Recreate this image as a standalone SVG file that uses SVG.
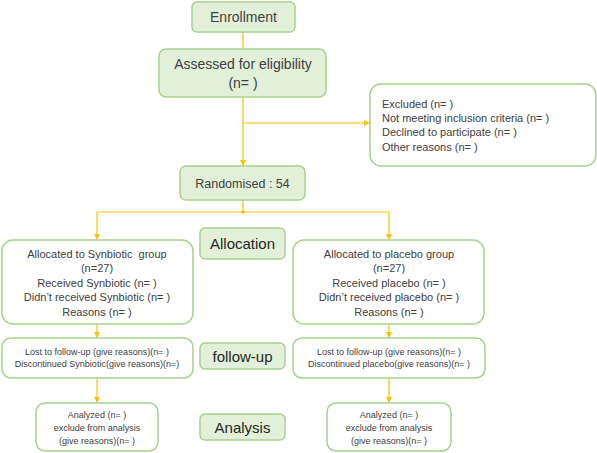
<svg xmlns="http://www.w3.org/2000/svg" width="597" height="453" viewBox="0 0 597 453">
<defs>
<style>
.f{fill:#e2f0d9;stroke:#a9d18e;stroke-width:1.5}
.w{fill:#ffffff;stroke:#a9d18e;stroke-width:1.5}
.c{fill:none;stroke:#ffc000;stroke-width:1.2}
text{font-family:"Liberation Sans",Arial,sans-serif;fill:#404040}
.m{text-anchor:middle}
.lab{font-size:15px;fill:#262626;text-anchor:middle}
</style>
<marker id="a" viewBox="0 0 6 6" refX="5" refY="3" markerWidth="5" markerHeight="5" orient="auto">
<path d="M0,0 L6,3 L0,6 Z" fill="#ffc000"/>
</marker>
</defs>
<rect width="597" height="453" fill="#ffffff"/>
<g id="connectors">
<line class="c" x1="243" y1="32" x2="243" y2="49"/>
<line class="c" x1="243" y1="97" x2="243" y2="165" marker-end="url(#a)"/>
<line class="c" x1="243" y1="123" x2="369" y2="123" marker-end="url(#a)"/>
<line class="c" x1="243" y1="200" x2="243" y2="212"/>
<polyline class="c" points="97,212 389,212 389,239" marker-end="url(#a)"/>
<line class="c" x1="97" y1="212" x2="97" y2="239" marker-end="url(#a)"/>
<circle cx="243" cy="212" r="1.8" fill="#ffc000"/>
<line class="c" x1="97" y1="324" x2="97" y2="337" marker-end="url(#a)"/>
<line class="c" x1="389" y1="324" x2="389" y2="337" marker-end="url(#a)"/>
<line class="c" x1="97" y1="378" x2="97" y2="402" marker-end="url(#a)"/>
<line class="c" x1="389" y1="378" x2="389" y2="402" marker-end="url(#a)"/>
</g>
<g id="enrollment">
<rect class="f" x="192" y="2" width="103" height="30" rx="5"/>
<text class="m" x="243.5" y="22" font-size="14">Enrollment</text>
</g>
<g id="assessed">
<rect class="f" x="159" y="49" width="167" height="48" rx="7"/>
<text class="m" x="243" y="69" font-size="14">Assessed for eligibility</text>
<text class="m" x="243" y="88" font-size="14">(n= )</text>
</g>
<g id="excluded">
<rect class="w" x="370" y="84" width="226" height="82" rx="11"/>
<text x="382" y="108" font-size="11">Excluded (n= )</text>
<text x="382" y="122" font-size="11">Not meeting inclusion criteria (n= )</text>
<text x="382" y="136" font-size="11">Declined to participate (n= )</text>
<text x="382" y="151" font-size="11">Other reasons (n= )</text>
</g>
<g id="randomised">
<rect class="f" x="180" y="166" width="125" height="34" rx="6"/>
<text class="m" x="242.5" y="187.5" font-size="12.5">Randomised : 54</text>
</g>
<g id="allocation">
<rect class="f" x="200" y="228" width="85" height="31" rx="5"/>
<text class="lab" x="242.5" y="249" font-size="14.5">Allocation</text>
</g>
<g id="alloc-synbiotic">
<rect class="w" x="2" y="240" width="191" height="84" rx="11"/>
<text class="m" x="97" y="258" font-size="11" xml:space="preserve">Allocated to Synbiotic  group</text>
<text class="m" x="97" y="272" font-size="11">(n=27)</text>
<text class="m" x="97" y="287" font-size="11">Received Synbiotic (n= )</text>
<text class="m" x="97" y="301" font-size="11">Didn’t received Synbiotic (n= )</text>
<text class="m" x="97" y="316" font-size="11">Reasons (n= )</text>
</g>
<g id="alloc-placebo">
<rect class="w" x="293" y="240" width="191" height="84" rx="11"/>
<text class="m" x="389" y="258" font-size="11">Allocated to placebo group</text>
<text class="m" x="389" y="272" font-size="11">(n=27)</text>
<text class="m" x="389" y="287" font-size="11">Received placebo (n= )</text>
<text class="m" x="389" y="301" font-size="11">Didn’t received placebo (n= )</text>
<text class="m" x="389" y="316" font-size="11">Reasons (n= )</text>
</g>
<g id="followup-label">
<rect class="f" x="200" y="343" width="85" height="26" rx="5"/>
<text class="lab" x="242.5" y="361.5">follow-up</text>
</g>
<g id="followup-synbiotic">
<rect class="w" x="2" y="338" width="191" height="40" rx="9"/>
<text class="m" x="97" y="355" font-size="9">Lost to follow-up (give reasons)(n= )</text>
<text class="m" x="97" y="367" font-size="9">Discontinued Synbiotic(give reasons)(n=)</text>
</g>
<g id="followup-placebo">
<rect class="w" x="293" y="338" width="192" height="40" rx="9"/>
<text class="m" x="389" y="355" font-size="9">Lost to follow-up (give reasons)(n= )</text>
<text class="m" x="389" y="367" font-size="9">Discontinued placebo(give reasons)(n= )</text>
</g>
<g id="analysis-label">
<rect class="f" x="200" y="414" width="85" height="26" rx="5"/>
<text class="lab" x="242.5" y="432.5" font-size="14.5">Analysis</text>
</g>
<g id="analyzed-synbiotic">
<rect class="w" x="36" y="403" width="122" height="48" rx="9"/>
<text class="m" x="97" y="418" font-size="9">Analyzed (n= )</text>
<text class="m" x="97" y="431" font-size="9">exclude from analysis</text>
<text class="m" x="97" y="444" font-size="9">(give reasons)(n= )</text>
</g>
<g id="analyzed-placebo">
<rect class="w" x="327" y="403" width="124" height="48" rx="9"/>
<text class="m" x="389" y="418" font-size="9">Analyzed (n= )</text>
<text class="m" x="389" y="431" font-size="9">exclude from analysis</text>
<text class="m" x="389" y="444" font-size="9">(give reasons)(n= )</text>
</g>
</svg>
